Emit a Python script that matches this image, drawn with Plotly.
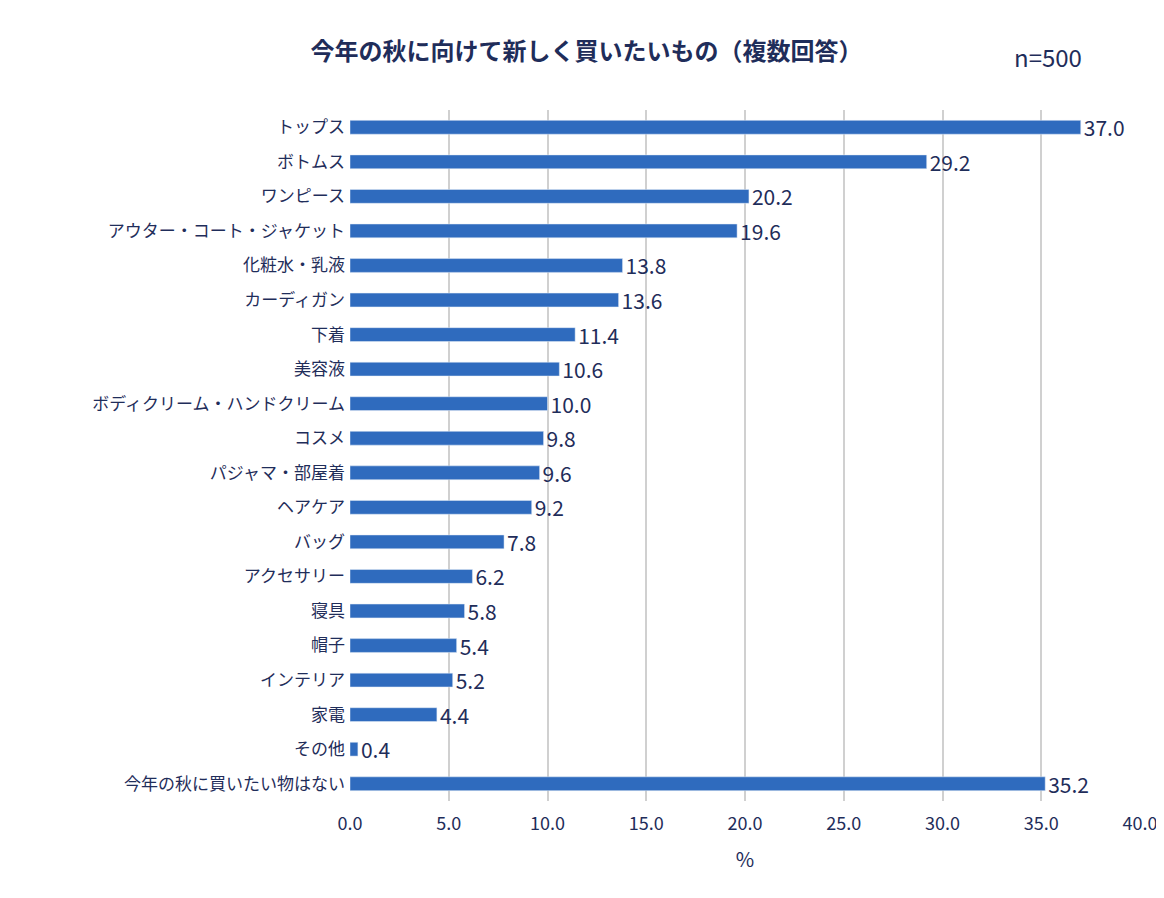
import plotly.graph_objects as go

categories = ["トップス","ボトムス","ワンピース","アウター・コート・ジャケット","化粧水・乳液","カーディガン","下着","美容液",
              "ボディクリーム・ハンドクリーム","コスメ","パジャマ・部屋着","ヘアケア","バッグ","アクセサリー","寝具","帽子",
              "インテリア","家電","その他","今年の秋に買いたい物はない"]
values = [37.0,29.2,20.2,19.6,13.8,13.6,11.4,10.6,10.0,9.8,9.6,9.2,7.8,6.2,5.8,5.4,5.2,4.4,0.4,35.2]
ticks = [0,5,10,15,20,25,30,35,40]

navy = "#1F2D5A"
font = "Noto Sans CJK JP"
fig = go.Figure(go.Bar(
    x=values, y=categories, orientation="h", width=0.4,
    marker_color="#2F6BBE",
    text=[f"{v:.1f}" for v in values], textposition="outside", constraintext="none",
    textfont=dict(size=21, color=navy, family=font), cliponaxis=False))
fig.update_layout(
    width=1164, height=898, plot_bgcolor="white", paper_bgcolor="white",
    margin=dict(l=342, r=32, t=102, b=105), showlegend=False,
    font=dict(family=font, color=navy),
    title=dict(text="<b>今年の秋に向けて新しく買いたいもの（複数回答）</b>", x=0.497, xanchor="center",
               y=0.951, yanchor="middle", font=dict(size=24, color=navy, family=font)),
    annotations=[dict(text="n=500", x=(1040-342)/790, y=(898-105-48)/691, xref="paper", yref="paper",
                      showarrow=False, xanchor="center", yanchor="middle",
                      font=dict(size=24, color=navy, family=font))],
)
fig.update_xaxes(range=[0,40], tickvals=ticks, tickformat=".1f", showgrid=True, gridcolor="#D0D0D0", gridwidth=1.5,
                 zeroline=False, tickfont=dict(size=18, color=navy), ticks="", ticklabelstandoff=10,
                 automargin=False, title=dict(text="%", font=dict(size=20, color=navy), standoff=18))
fig.update_yaxes(autorange="reversed", tickfont=dict(size=17, color=navy), ticks="", ticklabelstandoff=4,
                 showline=False, automargin=False)
fig.write_html("out.html")
